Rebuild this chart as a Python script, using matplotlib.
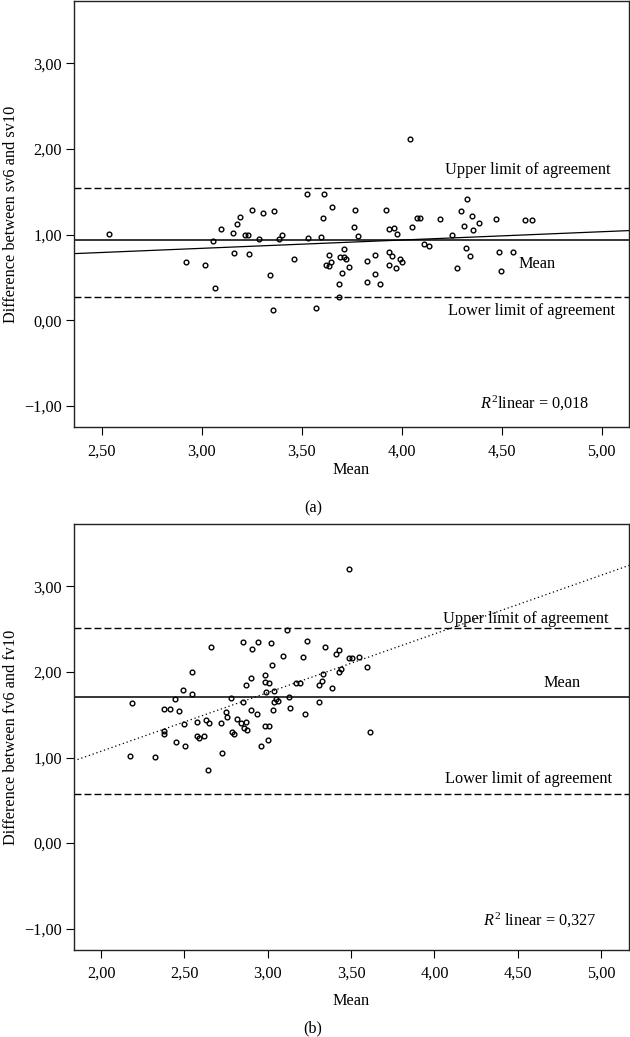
# Bland-Altman plots: (a) sv6 vs sv10, (b) fv6 vs fv10
import numpy as np
import matplotlib.pyplot as plt
from matplotlib.ticker import FuncFormatter

plt.rcParams['font.family'] = ['Liberation Serif', 'DejaVu Serif']
plt.rcParams['mathtext.fontset'] = 'custom'
plt.rcParams['mathtext.rm'] = 'Liberation Serif'
plt.rcParams['mathtext.it'] = 'Liberation Serif:italic'
plt.rcParams['font.size'] = 11.7
# ------------------------------------------------------------------------
# (a) 데이터 : mean of the two measurements / difference
mean_a = [2.535, 2.92, 3.018, 3.057, 3.066, 3.096, 3.155, 3.16, 3.178, 3.193,
          3.215, 3.233, 3.236, 3.25, 3.286, 3.305, 3.34, 3.358, 3.36, 3.386,
          3.40, 3.463, 3.528, 3.533, 3.571, 3.595, 3.608, 3.611, 3.62, 3.635,
          3.638, 3.646, 3.65, 3.685, 3.685, 3.69, 3.70, 3.713, 3.713, 3.72,
          3.735, 3.761, 3.765, 3.783, 3.825, 3.828, 3.866, 3.868, 3.891, 3.923,
          3.936, 3.938, 3.938, 3.953, 3.963, 3.971, 3.975, 3.991, 4.0, 4.04,
          4.053, 4.075, 4.091, 4.113, 4.138, 4.19, 4.253, 4.278, 4.298, 4.31,
          4.323, 4.326, 4.34, 4.35, 4.355, 4.385, 4.47, 4.488, 4.497, 4.558,
          4.618, 4.653]
diff_a = [1.012, 0.68, 0.645, 0.92, 0.38, 1.07, 1.023, 0.79, 1.129, 1.207,
          0.996, 0.99, 0.774, 1.289, 0.945, 1.25, 0.53, 0.123, 1.28, 0.953,
          0.996, 0.716, 1.48, 0.965, 0.138, 0.977, 1.195, 1.48, 0.649, 0.634,
          0.766, 0.676, 1.327, 0.427, 0.267, 0.735, 0.552, 0.833, 0.735, 0.711,
          0.626, 1.085, 1.289, 0.98, 0.696, 0.442, 0.54, 0.758, 0.419, 1.285,
          0.645, 1.07, 0.793, 0.746, 1.074, 0.606, 1.008, 0.719, 0.68, 2.119,
          1.09, 1.195, 1.195, 0.891, 0.863, 1.187, 1.0, 0.614, 1.28, 1.097,
          0.848, 1.417, 0.751, 1.218, 1.05, 1.137, 1.187, 0.793, 0.575, 0.793,
          1.175, 1.175]
bias_a = 0.94
upper_a = 1.54
lower_a = 0.27
fit_a = (0.097, 0.549)      # slope, intercept
r2_a = '0,018'
xticks_a = [2.5, 3.0, 3.5, 4.0, 4.5, 5.0]
xlim_a = (2.36, 5.136)
# ------------------------------------------------------------------------
# (b) 데이터
mean_b = [2.176, 2.186, 2.326, 2.378, 2.378, 2.38, 2.416, 2.442, 2.452, 2.47,
          2.49, 2.496, 2.506, 2.544, 2.546, 2.578, 2.578, 2.59, 2.618, 2.63,
          2.642, 2.646, 2.658, 2.72, 2.726, 2.752, 2.756, 2.782, 2.784, 2.80,
          2.818, 2.842, 2.852, 2.852, 2.858, 2.868, 2.87, 2.878, 2.898, 2.90,
          2.906, 2.936, 2.942, 2.96, 2.984, 2.986, 2.986, 2.988, 3.002, 3.008,
          3.01, 3.018, 3.026, 3.03, 3.038, 3.04, 3.05, 3.064, 3.09, 3.114,
          3.13, 3.136, 3.17, 3.196, 3.212, 3.224, 3.238, 3.306, 3.31, 3.326,
          3.33, 3.342, 3.386, 3.41, 3.426, 3.43, 3.442, 3.488, 3.49, 3.508,
          3.548, 3.598, 3.612]
diff_b = [1.012, 1.643, 1.008, 1.569, 1.315, 1.273, 1.569, 1.69, 1.183, 1.542,
          1.787, 1.397, 1.14, 1.748, 2.005, 1.417, 1.25, 1.227, 1.25, 1.437,
          0.86, 1.409, 2.29, 1.402, 1.058, 1.534, 1.479, 1.70, 1.304, 1.28,
          1.449, 1.409, 2.352, 1.651, 1.35, 1.846, 1.417, 1.32, 1.928, 1.557,
          2.273, 1.507, 2.352, 1.14, 1.37, 1.963, 1.88, 1.764, 1.21, 1.37,
          1.873, 2.343, 2.079, 1.557, 1.647, 1.779, 1.686, 1.662, 2.185, 2.495,
          1.713, 1.577, 1.873, 1.873, 2.173, 1.514, 2.367, 1.853, 1.651, 1.90,
          1.974, 2.297, 1.81, 2.215, 2.0, 2.255, 2.033, 2.161, 3.2, 2.168,
          2.176, 2.056, 1.297]
bias_b = 1.708
upper_b = 2.52
lower_b = 0.572
fit_b = (0.686, -0.299)
r2_b = '0,327'
xticks_b = [2.0, 2.5, 3.0, 3.5, 4.0, 4.5, 5.0]
xlim_b = (1.836, 5.167)

yticks = [-1, 0, 1, 2, 3]
ylim = (-1.25, 3.73)
# ------------------------------------------------------------------------
comma = FuncFormatter(lambda v, pos: ('%.2f' % v).replace('.', ',').replace('-', '\u2212'))


def draw_panel(ax, mean, diff, bias, upper, lower, fit, fit_style, r2, r2_space,
               xticks, xlim, ylabel, xlabelpad, txt):
    ax.plot(mean, diff, 'o', ms=3.4, mfc='none', mec='black', mew=1.0, zorder=3)
    ax.axhline(upper, color='black', lw=1.0, ls=(0, (5, 2.2)))
    ax.axhline(lower, color='black', lw=1.0, ls=(0, (5, 2.2)))
    ax.axhline(bias, color='black', lw=1.1)
    xs = np.array(xlim)
    ax.plot(xs, fit[1] + fit[0] * xs, color='black', lw=0.9, ls=fit_style)

    ax.set_xlim(xlim)
    ax.set_ylim(ylim)
    ax.set_xticks(xticks)
    ax.set_yticks(yticks)
    ax.xaxis.set_major_formatter(comma)
    ax.yaxis.set_major_formatter(comma)
    ax.tick_params(direction='out', length=5.5, width=0.8, pad=3)
    ax.tick_params(axis='x', pad=6)
    for s in ax.spines.values():
        s.set_linewidth(1.0)
        s.set_color('#222222')
    ax.set_ylabel(ylabel)
    ax.set_xlabel('Mean', labelpad=xlabelpad)

    # 텍스트 (위치는 데이터 좌표)
    ax.text(*txt['upper'], 'Upper limit of agreement', ha='center', va='center')
    ax.text(*txt['mean'], 'Mean', ha='center', va='center')
    ax.text(*txt['lower'], 'Lower limit of agreement', ha='center', va='center')
    ax.text(*txt['r2'], '$R^2$' + r2_space + 'linear = ' + r2, ha='center', va='center')


fig = plt.figure(figsize=(6.3, 10.37), dpi=100)
ax1 = fig.add_axes([0.117, 0.588, 0.8814, 0.4111])
ax2 = fig.add_axes([0.117, 0.0839, 0.8814, 0.4108])

draw_panel(ax1, mean_a, diff_a, bias_a, upper_a, lower_a, fit_a, '-', r2_a, '',
           xticks_a, xlim_a, 'Difference between sv6 and sv10', 2.3,
           {'upper': (4.628, 1.76), 'mean': (4.676, 0.661),
            'lower': (4.648, 0.111), 'r2': (4.664, -0.977)})
draw_panel(ax2, mean_b, diff_b, bias_b, upper_b, lower_b, fit_b, (0, (1, 2.2)), r2_b, ' ',
           xticks_b, xlim_b, 'Difference between fv6 and fv10', 7.6,
           {'upper': (4.548, 2.62), 'mean': (4.764, 1.876),
            'lower': (4.562, 0.751), 'r2': (4.634, -0.907)})

fig.text(0.497, 1 - 508 / 1037, '(a)', ha='center', va='center')
fig.text(0.497, 1 - 1028 / 1037, '(b)', ha='center', va='center')

plt.savefig('out.png', dpi=100)
